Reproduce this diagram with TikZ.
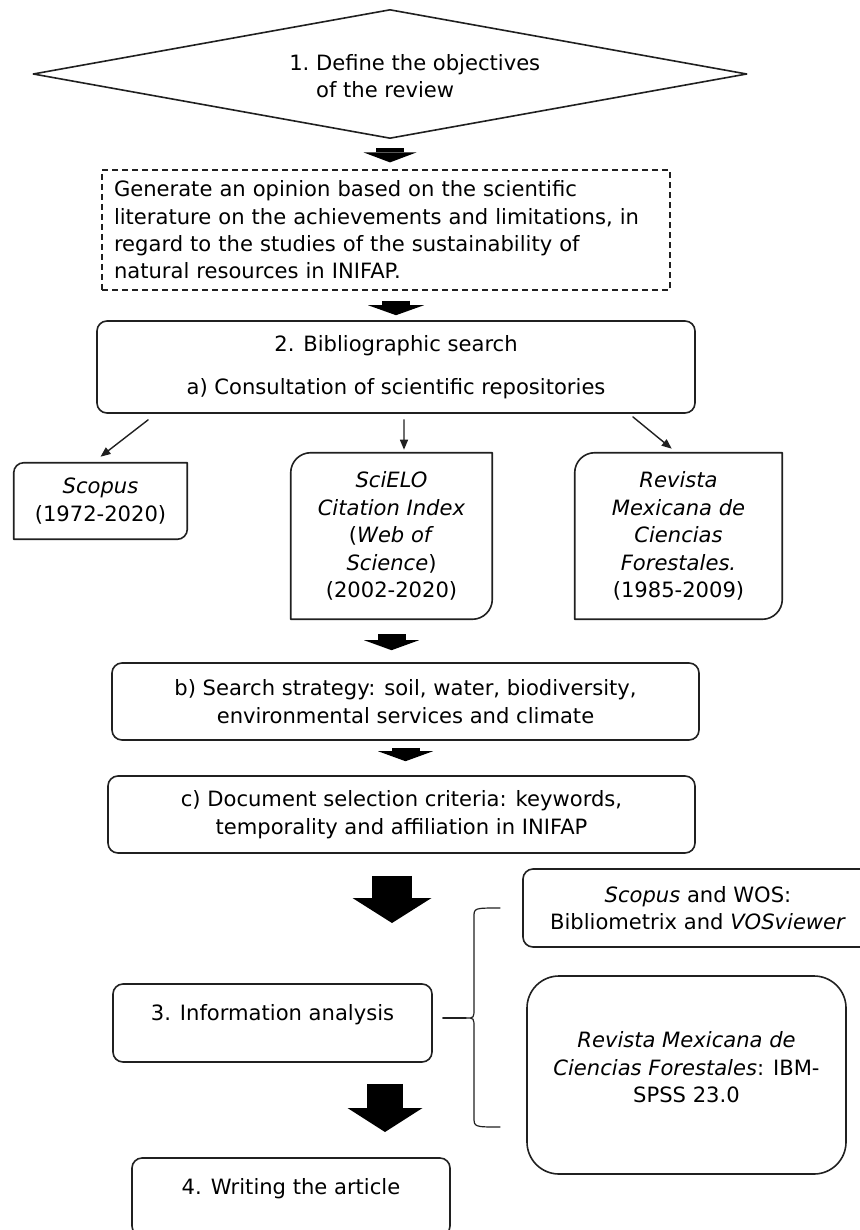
\documentclass[tikz,border=0pt]{standalone}
\usepackage{fontspec}
\setmainfont{DejaVu Sans}
\usepackage{pgf,tikz}
\usetikzlibrary{arrows,arrows.meta,shapes.geometric,calc}
\definecolor{sqsqsq}{rgb}{0.12549019607843137,0.12549019607843137,0.12549019607843137}
\tikzset{
  box/.style={draw=sqsqsq,line width=0.04cm,rounded corners=0.25cm,align=center,inner sep=0pt},
  repo/.style={align=center,inner sep=0pt},
  fatarrow/.style n args={3}{line cap=butt,line width=#1,-{Triangle[width=#2,length=#3,line width=0pt]}},
  thinarrow/.style={draw=sqsqsq,line width=0.035cm,->}
}
% frame with rounded top left and bottom right corners
\newcommand{\repobox}[2]{\draw[draw=sqsqsq,line width=0.04cm] ([yshift=-#2]#1.north west) arc (180:90:#2) -- (#1.north east) -- ([yshift=#2]#1.south east) arc (0:-90:#2) -- (#1.south west) -- cycle;}

\begin{document}
\begin{tikzpicture}[line cap=round,line join=round,>={Triangle[length=0.25cm,width=0.2cm]},x=1.0cm,y=1.0cm,font=\fontsize{15}{19.5}\selectfont]
\useasboundingbox (0,0) rectangle (21.475,-30.75);
% 1. objectives
\node[diamond,draw=sqsqsq,line width=0.04cm,minimum width=17.85cm,minimum height=3.225cm,inner sep=0pt] (obj) at (9.75,-1.85) {};
\node[anchor=west,align=left,inner sep=0pt] (objtext) at (7.225,-1.9) {1.\ Define the objectives\\\phantom{1.\ }of the review};
\node[draw=sqsqsq,line width=0.03cm,line cap=butt,dash pattern=on 0.15cm off 0.1cm,minimum width=14.2cm,minimum height=3cm,text width=13.6cm,inner xsep=0.3cm,align=left] (goal) at (9.65,-5.75) {Generate an opinion based on the scientific\\literature on the achievements and limitations, in\\regard to the studies of the sustainability of\\natural resources in INIFAP.};
% 2. search
\node[box,minimum width=14.95cm,minimum height=2.3cm] (search) at (9.9,-9.175) {2. Bibliographic search\\[11pt]a) Consultation of scientific repositories};
\node[repo,minimum width=4.325cm,minimum height=1.9cm] (scopus) at (2.5125,-12.525) {\textit{Scopus}\\(1972-2020)};
\node[repo,minimum width=5.025cm,minimum height=4.15cm] (scielo) at (9.7875,-13.4) {\textit{SciELO}\\\textit{Citation Index}\\(\textit{Web of}\\\textit{Science})\\(2002-2020)};
\node[repo,minimum width=5.175cm,minimum height=4.15cm] (rmcf) at (16.9625,-13.4) {\textit{Revista}\\\textit{Mexicana de}\\\textit{Ciencias}\\\textit{Forestales.}\\(1985-2009)};
\repobox{scopus}{0.25cm}
\repobox{scielo}{0.5cm}
\repobox{rmcf}{0.5cm}
\node[box,minimum width=14.675cm,minimum height=1.925cm] (strategy) at (10.1375,-17.5375) {b) Search strategy: soil, water, biodiversity,\\environmental services and climate};
\node[box,minimum width=14.675cm,minimum height=1.925cm] (criteria) at (10.0375,-20.3625) {c) Document selection criteria: keywords,\\temporality and affiliation in INIFAP};
% 3. analysis
\node[box,minimum width=8.75cm,minimum height=1.95cm] (tools) at (17.45,-22.7) {\textit{Scopus} and WOS:\\Bibliometrix and \textit{VOSviewer}};
\node[box,minimum width=7.975cm,minimum height=1.95cm,text depth=0.55cm] (analysis) at (6.8125,-25.575) {3. Information analysis};
\node[box,rounded corners=0.8cm,minimum width=7.975cm,minimum height=4.95cm,text depth=0.4cm] (spss) at (17.1625,-26.875) {\textit{Revista Mexicana de}\\\textit{Ciencias Forestales}: IBM-\\SPSS 23.0};
\node[box,minimum width=7.95cm,minimum height=1.95cm,text depth=0.55cm] (writing) at (7.275,-29.925) {4. Writing the article};
\coordinate (bracetip) at (11.65,-25.45);
\coordinate (infoend) at (9.8,-23.075);
\coordinate (writeend) at (9.625,-28.3);
% block arrows
\draw[fatarrow={0.7cm}{1.325cm}{0.25cm},shorten <=0.225cm,shorten >=0.175cm] (obj.south) -- (obj.south |- goal.north);
\draw[fatarrow={0.7cm}{1.4cm}{0.25cm},shorten <=0.25cm,shorten >=0.125cm] (search.north |- goal.south) -- (search.north);
\draw[fatarrow={0.7cm}{1.375cm}{0.25cm},shorten <=0.375cm,shorten >=0.3cm] (scielo.south) -- (scielo.south |- strategy.north);
\draw[fatarrow={0.7cm}{1.375cm}{0.25cm},shorten <=0.175cm,shorten >=0.35cm] (strategy.south) -- (strategy.south |- criteria.north);
\draw[fatarrow={1.0cm}{1.975cm}{0.625cm},shorten <=0.55cm] (criteria.south -| infoend) -- (infoend);
\draw[fatarrow={0.9cm}{1.875cm}{0.6cm},shorten <=0.525cm] (analysis.south -| writeend) -- (writeend);
% repositories
\draw[thinarrow] ($(search.south west)+(1.3,-0.15)$) -- ($(scopus.north)+(0,0.15)$);
\draw[thinarrow] ($(search.south)+(0.2,-0.15)$) -- ($(scielo.north)+(0.3125,0.075)$);
\draw[thinarrow] ($(search.south east)+(-1.575,-0.075)$) -- ($(rmcf.north west)+(2.425,0.1)$);
% brace
\draw[sqsqsq,line width=0.03cm] (12.5,-22.7) .. controls (11.85,-22.7) .. (11.85,-22.925) -- (11.85,-25.2) .. controls (11.85,-25.45) .. (bracetip) .. controls (11.85,-25.45) .. (11.85,-25.7) -- (11.85,-27.925) .. controls (11.85,-28.175) .. (12.5,-28.175);
\draw[sqsqsq,line width=0.03cm,shorten <=0.25cm] (analysis.east |- bracetip) -- (bracetip);
\end{tikzpicture}
\end{document}
